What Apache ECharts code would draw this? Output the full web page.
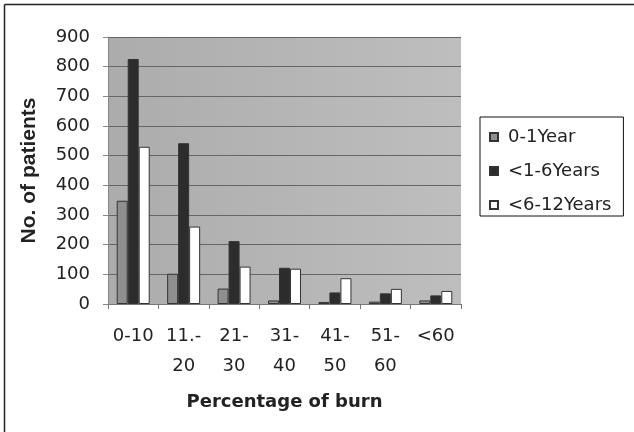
<!DOCTYPE html>
<html><head><meta charset="utf-8">
<script src="https://cdn.jsdelivr.net/npm/echarts@6/dist/echarts.min.js"></script>
<style>html,body{margin:0;padding:0;background:#fff}#c{width:634px;height:432px}</style>
</head><body><div id="c"></div>
<script>
var categories = ['0-10', '11.-\n20', '21-\n30', '31-\n40', '41-\n50', '51-\n60', '<60'];
var seriesNames = ['0-1Year', '<1-6Years', '<6-12Years'];
var infant = [348, 102, 52, 12, 7, 8, 12];
var toddler = [826, 542, 212, 122, 39, 36, 29];
var child = [530, 261, 126, 119, 87, 51, 44];
var yTicks = [0, 100, 200, 300, 400, 500, 600, 700, 800, 900];

var chart = echarts.init(document.getElementById('c'), null, {renderer: 'canvas'});
var font = 'DejaVu Sans';
var barBorder = {borderColor: '#333', borderWidth: 1};
chart.setOption({
  animation: false,
  backgroundColor: '#fff',
  graphic: [
    {type: 'line', shape: {x1: 4.5, y1: 4.5, x2: 634, y2: 4.5}, style: {stroke: '#222', lineWidth: 1.5}},
    {type: 'line', shape: {x1: 4.5, y1: 4.5, x2: 4.5, y2: 432}, style: {stroke: '#222', lineWidth: 1.5}}
  ],
  grid: {
    left: 108, top: 37, right: 173, bottom: 128,
    show: true, borderWidth: 0,
    backgroundColor: new echarts.graphic.LinearGradient(0, 0, 1, 0, [
      {offset: 0, color: '#acacac'}, {offset: 1, color: '#bebebe'}
    ])
  },
  legend: {
    orient: 'vertical', left: 480, top: 117,
    padding: [10, 12, 1, 9],
    itemWidth: 8, itemHeight: 8, itemGap: 14,
    borderColor: '#111', borderWidth: 1,
    textStyle: {fontFamily: font, fontSize: 18, color: '#222', lineHeight: 20, padding: [0, 0, 0, 5]},
    data: seriesNames.map(function (n) { return {name: n, icon: 'rect'}; })
  },
  xAxis: {
    type: 'category', data: categories,
    name: 'Percentage of burn', nameLocation: 'middle', nameGap: 89,
    nameTextStyle: {fontFamily: font, fontSize: 18, fontWeight: 'bold', color: '#222'},
    axisLine: {lineStyle: {color: '#777', width: 1}},
    axisTick: {show: true, length: 5, lineStyle: {color: '#777'}},
    axisLabel: {interval: 0, fontFamily: font, fontSize: 18, color: '#222', margin: 17, lineHeight: 30}
  },
  yAxis: {
    type: 'value', min: 0, max: 900, interval: 100,
    name: 'No. of patients', nameLocation: 'middle', nameGap: 68,
    nameTextStyle: {fontFamily: 'Liberation Sans', fontSize: 21, fontWeight: 'bold', color: '#222'},
    axisLine: {show: true, lineStyle: {color: '#888', width: 1}},
    axisTick: {show: true, length: 5, lineStyle: {color: '#888'}},
    axisLabel: {fontFamily: font, fontSize: 18, color: '#222', margin: 18,
      formatter: function (v) { return yTicks.indexOf(v) >= 0 ? String(v) : ''; }},
    splitLine: {lineStyle: {color: '#666', width: 1}}
  },
  series: [
    {name: seriesNames[0], type: 'bar', data: infant, barWidth: 11, barGap: '0%',
      itemStyle: Object.assign({color: '#8f8f8f'}, barBorder)},
    {name: seriesNames[1], type: 'bar', data: toddler, barWidth: 11, barGap: '0%',
      itemStyle: Object.assign({color: '#2c2c2c'}, barBorder)},
    {name: seriesNames[2], type: 'bar', data: child, barWidth: 11, barGap: '0%',
      itemStyle: Object.assign({color: '#ffffff'}, barBorder)}
  ]
});
</script></body></html>
